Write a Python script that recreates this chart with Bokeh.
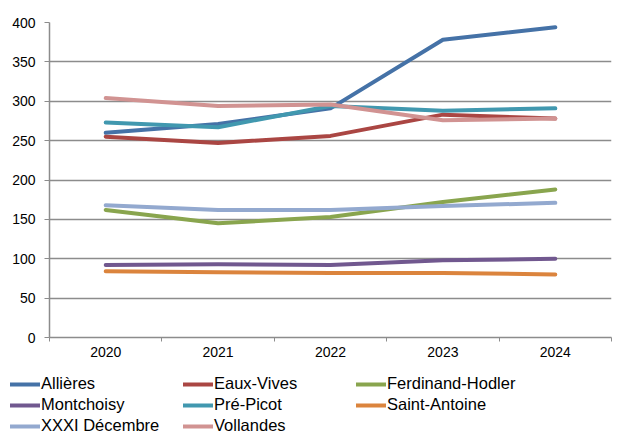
from bokeh.plotting import figure
from bokeh.layouts import column
from bokeh.models import Range1d, FixedTicker, Legend, LegendItem
from bokeh.embed import file_html
from bokeh.resources import INLINE

years = ["2020", "2021", "2022", "2023", "2024"]
allieres = [260, 271, 291, 378, 394]
eaux_vives = [255, 247, 256, 283, 278]
ferdinand_hodler = [162, 145, 153, 172, 188]
montchoisy = [92, 93, 92, 98, 100]
pre_picot = [273, 267, 294, 288, 291]
saint_antoine = [84, 83, 82, 82, 80]
xxxi_decembre = [168, 162, 162, 167, 171]
vollandes = [304, 294, 296, 276, 278]

series = [
    ("Allières", allieres, "#4572A7"),
    ("Eaux-Vives", eaux_vives, "#AA4643"),
    ("Ferdinand-Hodler", ferdinand_hodler, "#89A54E"),
    ("Montchoisy", montchoisy, "#71588F"),
    ("Pré-Picot", pre_picot, "#4198AF"),
    ("Saint-Antoine", saint_antoine, "#DB843D"),
    ("XXXI Décembre", xxxi_decembre, "#93A9CF"),
    ("Vollandes", vollandes, "#D19392"),
]

FONT = "Liberation Sans"
GRAY = "#8C8C8C"
W = 628
H_MAIN = 359
H_LEG = 74
xs = list(range(1, len(years) + 1))

p = figure(width=W, height=H_MAIN, output_backend="svg", toolbar_location=None,
           x_range=Range1d(0.5, len(years) + 0.5), y_range=Range1d(0, 400),
           min_border_left=49, min_border_top=22, min_border_right=17, min_border_bottom=0)
p.outline_line_color = None
p.frame_align = False

for name, vals, col in series:
    p.line(xs, vals, line_color=col, line_width=4, line_cap="round", line_join="round")

# axes
p.xaxis.ticker = FixedTicker(ticks=xs, minor_ticks=[x - 0.5 for x in xs] + [xs[-1] + 0.5])
p.xaxis.major_label_overrides = {x: y for x, y in zip(xs, years)}
p.xaxis.major_tick_line_color = None
p.xaxis.major_tick_out = 4
p.xaxis.minor_tick_out = 4
p.xaxis.minor_tick_in = 0
p.xaxis.minor_tick_line_color = GRAY
p.xaxis.axis_line_color = GRAY
p.xaxis.axis_line_width = 1.5
p.xaxis.major_label_standoff = 5

p.yaxis.ticker = FixedTicker(ticks=list(range(0, 401, 50)))
p.yaxis.minor_tick_line_color = None
p.yaxis.major_tick_out = 5
p.yaxis.major_tick_in = 0
p.yaxis.major_tick_line_color = GRAY
p.yaxis.axis_line_color = GRAY
p.yaxis.axis_line_width = 1.5
p.yaxis.major_label_standoff = 9

for ax in (p.xaxis[0], p.yaxis[0]):
    ax.major_label_text_font = FONT
    ax.major_label_text_font_size = "14px"
    ax.major_label_text_color = "black"

p.xgrid.grid_line_color = None
p.ygrid.grid_line_color = GRAY
p.ygrid.grid_line_width = 1.5

# legend panel below the chart
lf = figure(width=W, height=H_LEG, output_backend="svg", toolbar_location=None,
            x_range=Range1d(0, 1), y_range=Range1d(-2, -1),
            min_border=0, min_border_left=0, min_border_right=0,
            min_border_top=0, min_border_bottom=0,
            x_axis_location=None, y_axis_location=None)
lf.outline_line_color = None
lf.frame_align = False
lf.xgrid.visible = False
lf.ygrid.visible = False
items = []
for name, vals, col in series:
    r = lf.line(xs, vals, line_color=col, line_width=4, line_cap="round")
    items.append(LegendItem(label=name, renderers=[r]))

legend = Legend(items=items, orientation="horizontal", ncols=3,
                location=(10, -3), label_width=142, glyph_width=30, glyph_height=16,
                label_height=21, label_standoff=1, spacing=0, padding=0, margin=0,
                border_line_color=None, background_fill_alpha=0,
                label_text_font=FONT, label_text_font_size="16.5px",
                label_text_color="black")
lf.add_layout(legend, "center")

layout = column(p, lf, spacing=0)
open("out.html", "w").write(file_html(layout, INLINE))
